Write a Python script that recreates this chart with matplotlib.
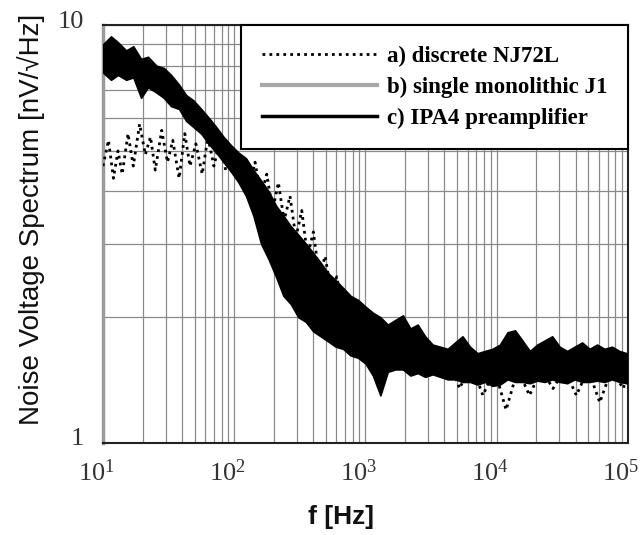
import matplotlib
matplotlib.use("Agg")
import matplotlib.pyplot as plt
from matplotlib.lines import Line2D
from matplotlib.transforms import ScaledTranslation

# ---------------- data ----------------
# c) IPA4 preamplifier: spectrum band (upper / lower trace of the noisy curve)
f_c = [10, 11.5, 13, 15, 17, 19.5, 22, 25.5, 29, 33, 38, 43, 49, 56, 64, 73, 83, 95,
       108, 123, 140, 160, 183, 208, 237, 270, 308, 351, 400, 456, 520, 593, 676, 770,
       878, 1000, 1140, 1300, 1480, 1690, 1930, 2200, 2500, 2850, 3250, 3710, 4230,
       4820, 5490, 6260, 7140, 8140, 9280, 10600, 12100, 13800, 15700, 17900, 20400,
       23300, 26500, 30200, 34500, 39300, 44800, 51100, 58200, 66400, 75700, 86300, 98000]
c_hi = [9.0, 9.4, 9.1, 8.7, 8.9, 8.3, 8.4, 8.0, 7.9, 7.6, 7.2, 6.8, 6.6, 6.3, 6.0, 5.7, 5.4, 5.15,
        4.95, 4.8, 4.5, 4.25, 4.0, 3.7, 3.5, 3.3, 3.15, 3.0, 2.85, 2.7, 2.55, 2.45, 2.35, 2.25,
        2.2, 2.12, 2.05, 2.0, 1.92, 1.97, 2.02, 1.88, 1.92, 1.8, 1.72, 1.70, 1.68,
        1.74, 1.80, 1.70, 1.64, 1.66, 1.68, 1.72, 1.84, 1.86, 1.76, 1.66, 1.72,
        1.76, 1.80, 1.70, 1.66, 1.70, 1.74, 1.68, 1.72, 1.68, 1.70, 1.66, 1.64]
c_lo = [7.7, 7.4, 7.6, 7.4, 7.5, 6.7, 7.1, 6.9, 6.7, 6.4, 6.3, 5.9, 5.7, 5.5, 5.2, 4.95, 4.7, 4.45,
        4.2, 3.9, 3.5, 3.0, 2.75, 2.5, 2.25, 2.15, 2.0, 1.95, 1.85, 1.8, 1.75, 1.7, 1.68, 1.62,
        1.6, 1.55, 1.45, 1.30, 1.48, 1.5, 1.5, 1.45, 1.47, 1.44, 1.46, 1.44, 1.42,
        1.42, 1.40, 1.40, 1.38, 1.40, 1.37, 1.38, 1.42, 1.40, 1.40, 1.39, 1.41,
        1.40, 1.42, 1.40, 1.39, 1.42, 1.40, 1.40, 1.41, 1.40, 1.42, 1.40, 1.39]

# b) single monolithic J1 (mostly hidden under c)
f_b = [10, 13, 17, 22, 29, 38, 49, 64, 83, 108, 140, 183, 237, 308, 400, 520, 676, 878,
       1140, 1480, 1930, 2500, 3250, 4230, 5490, 7140, 9280, 12100, 15700, 20400,
       26500, 34500, 44800, 58200, 75700, 98000]
b_v = [8.6, 8.4, 8.2, 7.8, 7.3, 6.8, 6.2, 5.6, 5.0, 4.5, 4.0, 3.4, 2.9, 2.6, 2.35, 2.15, 2.0, 1.9,
       1.75, 1.7, 1.72, 1.65, 1.6, 1.55, 1.58, 1.52, 1.5, 1.6, 1.56, 1.55,
       1.6, 1.53, 1.56, 1.55, 1.55, 1.52]

# a) discrete NJ72L (dotted, scattered)
f_a = [10, 11, 12, 13, 14, 15.5, 17, 19, 21, 23, 25, 28, 31, 34, 38, 42, 46, 51, 57, 63,
       70, 78, 86, 95, 105, 117, 130, 144, 160, 177, 196, 217, 240, 266, 295, 327, 362,
       401, 445, 493, 546, 605, 670, 742, 822, 911, 1010, 1240, 1520, 1870, 2290, 2820,
       3460, 4250, 5220, 6400, 7860, 9650, 11800, 14500, 17800, 21900, 26900, 33000,
       40500, 49800, 61100, 75000, 92100, 100000]
a_v = [4.6, 5.3, 4.3, 5.0, 4.4, 5.5, 4.6, 5.8, 4.9, 5.4, 4.5, 5.6, 4.7, 5.3, 4.3, 5.5, 4.6, 5.2, 4.4, 5.4,
       4.6, 5.3, 4.5, 5.1, 4.4, 4.9, 4.1, 4.7, 3.9, 4.4, 3.6, 4.2, 3.4, 3.9, 3.1, 3.6, 2.8,
       3.2, 2.5, 2.8, 2.3, 2.5, 2.1, 2.3, 1.9, 2.1, 1.75, 1.9, 1.6, 1.75, 1.5, 1.65,
       1.45, 1.6, 1.35, 1.55, 1.3, 1.5, 1.2, 1.5, 1.3, 1.5, 1.35, 1.5,
       1.3, 1.5, 1.25, 1.5, 1.35, 1.45]

labels = ["a) discrete NJ72L", "b) single monolithic J1", "c) IPA4 preamplifier"]
x_ticks = [1e1, 1e2, 1e3, 1e4, 1e5]
x_ticklabels = [r"$10^{1}$", r"$10^{2}$", r"$10^{3}$", r"$10^{4}$", r"$10^{5}$"]
y_ticks = [1, 10]
y_ticklabels = ["1", "10"]

# ---------------- figure ----------------
plt.rcParams["mathtext.fontset"] = "custom"
plt.rcParams["mathtext.rm"] = "Liberation Serif"
plt.rcParams["mathtext.it"] = "Liberation Serif:italic"
plt.rcParams["mathtext.bf"] = "Liberation Serif:bold"

serif = ["Liberation Serif", "DejaVu Serif"]
sans = ["Liberation Sans", "DejaVu Sans"]

fig = plt.figure(figsize=(6.4, 5.35), dpi=100)
ax = fig.add_axes([0.161, 0.172, 0.820, 0.781])
ax.set_xscale("log")
ax.set_yscale("log")
ax.set_xlim(10, 1e5)
ax.set_ylim(1, 10)

ax.grid(True, which="both", color="#8a8a8a", linewidth=0.9)
ax.set_axisbelow(True)

ax.plot(f_b, b_v, color="#a8a8a8", linewidth=3.0, zorder=2)
ax.fill_between(f_c, c_lo, c_hi, color="black", linewidth=1.2, edgecolor="black", zorder=3)
ax.plot(f_a, a_v, color="black", linestyle=(0, (1.0, 1.5)), linewidth=2.0, zorder=4)

ax.set_xticks(x_ticks)
ax.set_xticklabels(x_ticklabels)
ax.set_yticks(y_ticks)
ax.set_yticklabels(y_ticklabels)
ax.xaxis.set_minor_formatter(plt.NullFormatter())
ax.yaxis.set_minor_formatter(plt.NullFormatter())
ax.tick_params(which="both", length=0)
ax.tick_params(axis="x", pad=12)
ax.tick_params(axis="y", pad=14)
for lab in ax.get_xticklabels() + ax.get_yticklabels():
    lab.set_fontfamily(serif)
    lab.set_fontsize(19)
    lab.set_color("#333333")
shift_x = ScaledTranslation(-7 / 100, 0, fig.dpi_scale_trans)
for lab in ax.get_xticklabels():
    lab.set_transform(lab.get_transform() + shift_x)
shift_y = ScaledTranslation(0, 6 / 100, fig.dpi_scale_trans)
for lab in ax.get_yticklabels():
    lab.set_transform(lab.get_transform() + shift_y)

for side in ["top", "right", "bottom"]:
    ax.spines[side].set_color("#222222")
    ax.spines[side].set_linewidth(1.5)
ax.spines["left"].set_color("#9a9a9a")
ax.spines["left"].set_linewidth(2.5)

ax.set_ylabel("Noise Voltage Spectrum [nV/\u221aHz]", fontfamily=sans,
              fontsize=20, color="#111111")
ax.yaxis.set_label_coords(-0.110, 0.536)
ax.set_xlabel("f [Hz]", fontfamily=sans, fontsize=19, fontweight="bold", color="#111111")
ax.xaxis.set_label_coords(0.453, -0.148)

handles = [
    Line2D([], [], color="black", linestyle=(0, (1.0, 1.5)), linewidth=2.0),
    Line2D([], [], color="#a8a8a8", linewidth=3.0),
    Line2D([], [], color="black", linewidth=2.5),
]
leg = ax.legend(handles, labels, loc="upper right", bbox_to_anchor=(1.0, 1.0),
                borderaxespad=0.0, prop={"family": serif, "size": 16.5, "weight": "bold"},
                handlelength=5.0, labelspacing=0.42, handletextpad=0.45,
                borderpad=0.9, fancybox=False, framealpha=1.0, edgecolor="black")
leg.get_frame().set_linewidth(1.5)

fig.savefig("out.png", dpi=100)
